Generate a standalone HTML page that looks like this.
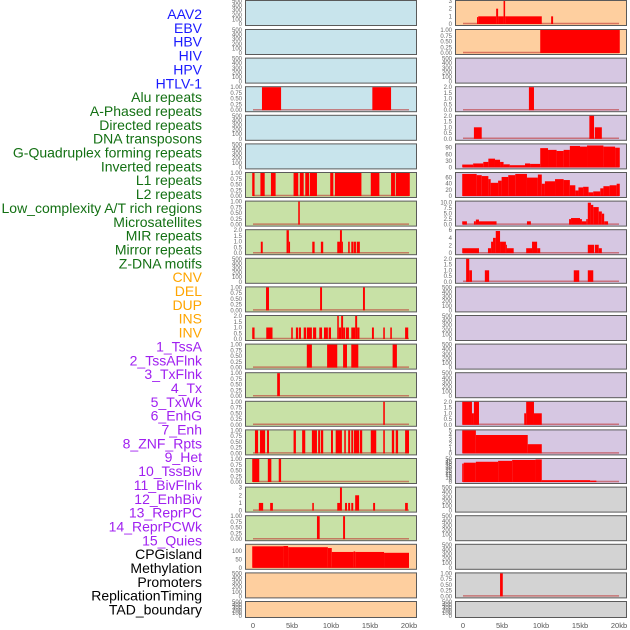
<!DOCTYPE html>
<html><head><meta charset="utf-8"><style>
html,body{margin:0;padding:0;background:#fff;}
svg{display:block;font-family:"Liberation Sans",sans-serif;}
</style></head><body>
<svg id="chart" width="630" height="630" viewBox="0 0 630 630"></svg>
<script>
// ---- row labels ----
const trackLabels = ["AAV2","EBV","HBV","HIV","HPV","HTLV-1","Alu repeats","A-Phased repeats","Directed repeats","DNA transposons","G-Quadruplex forming repeats","Inverted repeats","L1 repeats","L2 repeats","Low_complexity A/T rich regions","Microsatellites","MIR repeats","Mirror repeats","Z-DNA motifs","CNV","DEL","DUP","INS","INV","1_TssA","2_TssAFlnk","3_TxFlnk","4_Tx","5_TxWk","6_EnhG","7_Enh","8_ZNF_Rpts","9_Het","10_TssBiv","11_BivFlnk","12_EnhBiv","13_ReprPC","14_ReprPCWk","15_Quies","CPGisland","Methylation","Promoters","ReplicationTiming","TAD_boundary"];
const labelGroups = [6,13,5,15,5]; // counts per colour group
const xTickValues = [0,5,10,15,20];
const xTickLabels = ["0","5kb","10kb","15kb","20kb"];
// ---- tick label sets ----
const ticksEmpty = [0,100,200,300,400,500];
const ticksUnit = [0,0.25,0.5,0.75,1];
const ticksTwo = [0,0.5,1,1.5,2];
const ticksThree = [0,1,2,3];
const ticksCpg = [0,50,100];
const ticksG4 = [0,30,60,90];
const ticksL1 = [0,20,40,60];
const ticksLow = [0,2.5,5,7.5,10];
const ticksMir = [0,2,4,6];
const ticksFive = [0,1,2,3,4,5];
const ticksFifty = [0,5,10,15,20,25,30,35,40,45,50];
// ---- series: [start_kb, end_kb, value] ----
const L_alu = [[1.15,3.6,1],[15.3,17.7,1]];
const L_l1 = [[-0.1,0.2,1],[0.95,1.5,1],[2.3,2.9,1],[5.2,5.8,1],[6.0,6.5,1],[6.7,7.2,1],[7.3,8.2,1],[9.9,10.3,1],[10.5,13.9,1],[15.1,16.2,1],[17.7,18.2,1],[18.3,20.1,1]];
const L_low = [[5.8,6.0,1]];
const L_mir = [[1.0,1.25,1],[4.3,4.6,2],[4.6,4.75,1],[7.6,7.9,1],[8.7,9.0,1],[10.8,11.15,1],[11.15,11.4,2],[11.4,11.5,1],[12.2,12.4,1],[12.6,12.9,1],[12.95,13.2,1],[13.3,13.7,1]];
const L_del = [[1.67,2.05,1],[8.6,8.85,1],[14.1,14.35,1]];
const L_ins = [[-0.1,0.2,1],[1.7,2.5,1],[4.9,5.1,1],[5.5,5.8,1],[5.9,6.15,1],[6.5,6.8,1],[6.9,7.55,1],[7.7,8.1,1],[8.5,8.85,1],[9.1,9.6,1],[9.7,10.0,1],[10.8,11.0,2],[11.0,11.3,1],[11.3,11.55,2],[11.55,11.8,1],[11.9,12.3,1],[12.6,13.1,1],[13.1,13.35,2],[13.35,13.65,1],[15.25,15.5,1],[16.7,16.9,1],[17.6,17.8,1],[19.5,19.9,1]];
const L_tssa = [[6.9,7.55,1],[9.5,10.8,1],[11.55,12.05,1],[12.6,13.5,1],[17.9,18.45,1]];
const L_flnk = [[3.1,3.45,1]];
const L_txwk = [[16.7,16.9,1]];
const L_enh = [[0.25,0.65,1],[0.9,1.55,1],[1.8,2.05,1],[5.2,5.5,1],[6.3,6.7,1],[7.55,8.2,1],[8.35,8.6,1],[8.7,9.0,1],[10.0,10.25,1],[10.6,11.4,1],[11.7,11.9,1],[12.2,12.45,1],[12.6,12.85,1],[12.95,13.6,1],[13.7,14.0,1],[15.1,15.8,1],[16.7,16.9,1],[17.8,18.1,1],[18.3,18.6,1],[19.5,20.0,1]];
const L_het = [[-0.1,0.8,1],[1.9,2.35,1],[3.3,3.6,1]];
const L_enhbiv = [[0.75,1.3,1],[2.2,2.55,1],[7.6,7.8,1],[10.8,11.15,1],[11.15,11.4,3],[11.8,12.05,1],[12.2,12.45,1],[12.6,12.85,1],[13.1,13.6,2],[15.4,15.65,1],[19.5,19.85,1]];
const L_repr = [[8.2,8.55,1],[11.55,11.8,1]];
const L_cpg = [[-0.1,3.9,126],[3.9,4.5,128],[4.5,9.6,121],[9.6,10.1,116],[10.1,12.9,93],[12.9,13.1,96],[13.1,16.8,93],[16.8,20.0,88]];
const R_aav2 = [[1.8,1.95,0.9],[1.95,4.25,1],[4.25,4.5,2],[4.5,5.2,1],[5.2,5.4,3],[5.4,10.1,1],[11.3,11.55,1]];
const R_ebv = [[9.9,20.1,1]];
const R_alu = [[8.45,9.1,2]];
const R_aphased = [[1.4,2.4,1],[16.2,16.8,2],[16.9,17.8,1]];
const R_g4 = [[-0.1,1.3,13],[1.3,2.6,18],[2.6,3.25,25],[3.25,4.1,40],[4.1,4.75,35],[4.75,5.2,25],[5.2,6.0,14],[6.0,7.95,10],[7.95,8.6,18],[8.6,9.9,16],[9.9,10.9,88],[10.9,12.0,80],[12.0,12.9,75],[12.9,13.7,80],[13.7,15.0,98],[15.0,15.9,95],[15.9,18.0,100],[18.0,19.5,95],[19.5,20.1,90]];
const R_l1 = [[-0.1,1.75,72],[1.75,2.4,68],[2.4,3.25,65],[3.25,3.55,55],[3.55,4.5,43],[4.5,4.95,50],[4.95,5.8,62],[5.8,6.7,68],[6.7,8.2,72],[8.2,9.6,60],[9.6,10.1,70],[10.1,10.5,40],[10.5,11.8,48],[11.8,12.9,55],[12.9,13.7,52],[13.7,14.4,35],[14.4,14.8,18],[14.8,15.4,28],[15.4,16.1,30],[16.1,16.7,12],[16.7,17.6,15],[17.6,18.0,25],[18.0,18.8,32],[18.8,19.7,35],[19.7,20.1,40]];
const R_low = [[-0.1,0.5,1.5],[1.4,1.65,1.5],[1.65,2.05,2.3],[2.05,4.3,1.5],[8.2,8.7,1.5],[13.6,13.85,2.5],[13.85,15.0,3],[15.0,15.25,2.5],[15.25,15.8,1.5],[15.8,16.0,2.5],[16.0,16.4,10],[16.4,16.7,9],[16.7,17.4,8],[17.4,17.8,6],[17.8,18.1,5],[18.1,18.6,1.5]];
const R_mir = [[-0.1,2.05,1.3],[3.2,3.6,1.3],[3.6,3.85,3],[3.85,4.2,4],[4.2,4.75,5.8],[4.75,5.5,3],[5.5,5.6,2.2],[5.6,6.5,1.3],[8.1,8.85,1.3],[8.85,9.5,3],[9.5,9.9,1.3],[16.0,16.8,2.2],[16.9,17.4,2.2],[17.4,17.8,1.3]];
const R_mirror = [[0.4,0.8,2],[0.8,1.15,1],[2.8,3.35,1],[14.2,14.9,1],[16.0,16.7,1]];
const R_txwk = [[-0.1,1.15,2],[1.15,1.4,1],[1.4,2.05,2],[7.85,8.1,1],[8.1,9.1,2],[9.1,10.1,1]];
const R_enh = [[-0.1,1.65,5],[1.65,8.3,4],[8.3,10.1,2]];
const R_het = [[-0.1,0.1,40],[0.1,1.65,42],[1.65,4.5,44],[4.5,6.3,46],[6.3,9.3,48],[9.3,10.1,49],[10.1,16.3,4],[16.3,17.1,3]];
const R_prom = [[4.75,5.1,1]];

const BLUE="#c8e4ec", GREEN="#c8e1a6", PEACH="#fecf9f", LAV="#d6c7e2", GREY="#d3d3d3";
// panel specs: [colour, ymax, ticks, data, name]
const leftPanels = [
 [BLUE,500,ticksEmpty,null,"aav2"],[BLUE,500,ticksEmpty,null,"ebv"],[BLUE,500,ticksEmpty,null,"hiv"],
 [BLUE,1,ticksUnit,L_alu,"alu"],[BLUE,500,ticksEmpty,null,"aphased"],[BLUE,500,ticksEmpty,null,"dna"],
 [GREEN,1,ticksUnit,L_l1,"l1"],[GREEN,1,ticksUnit,L_low,"low-complexity"],[GREEN,2,ticksTwo,L_mir,"mir"],
 [GREEN,500,ticksEmpty,null,"zdna"],[GREEN,1,ticksUnit,L_del,"del"],[GREEN,2,ticksTwo,L_ins,"ins"],
 [GREEN,1,ticksUnit,L_tssa,"tssa"],[GREEN,1,ticksUnit,L_flnk,"txflnk"],[GREEN,1,ticksUnit,L_txwk,"txwk"],
 [GREEN,1,ticksUnit,L_enh,"enh"],[GREEN,1,ticksUnit,L_het,"het"],[GREEN,3,ticksThree,L_enhbiv,"enhbiv"],
 [GREEN,1,ticksUnit,L_repr,"reprpc"],[PEACH,135,ticksCpg,L_cpg,"cpgisland"],[PEACH,500,ticksEmpty,null,"promoters"],[PEACH,500,ticksEmpty,null,"tad"]];
const rightPanels = [
 [PEACH,3,ticksThree,R_aav2,"aav2"],[PEACH,1,ticksUnit,R_ebv,"ebv"],[LAV,500,ticksEmpty,null,"hiv"],
 [LAV,2,ticksTwo,R_alu,"alu"],[LAV,2,ticksTwo,R_aphased,"aphased"],[LAV,105,ticksG4,R_g4,"g4"],
 [LAV,75,ticksL1,R_l1,"l1"],[LAV,10.5,ticksLow,R_low,"low-complexity"],[LAV,6,ticksMir,R_mir,"mir"],
 [LAV,2,ticksTwo,R_mirror,"mirror"],[LAV,500,ticksEmpty,null,"del"],[LAV,500,ticksEmpty,null,"ins"],
 [LAV,500,ticksEmpty,null,"tssa"],[LAV,500,ticksEmpty,null,"txflnk"],[LAV,2,ticksTwo,R_txwk,"txwk"],
 [LAV,5,ticksFive,R_enh,"enh"],[LAV,50,ticksFifty,R_het,"het"],[GREY,500,ticksEmpty,null,"enhbiv"],
 [GREY,500,ticksEmpty,null,"reprpc"],[GREY,500,ticksEmpty,null,"cpgisland"],[GREY,1,ticksUnit,R_prom,"promoters"],[GREY,500,ticksEmpty,null,"tad"]];

const NS="http://www.w3.org/2000/svg";
const svg=document.getElementById("chart");
function mk(tag,attrs,parent){const e=document.createElementNS(NS,tag);for(const k in attrs)e.setAttribute(k,attrs[k]);(parent||svg).appendChild(e);return e;}
const KB=7.8;
function rowTop(i){return i===0?0:29+28.6*(i-1);}
function rowH(i){return i===21?16:25;}
function fmt(t,ticks){const mx=ticks[ticks.length-1];if(mx===1)return t.toFixed(2);if(mx===2)return t.toFixed(1);if(mx===10)return t.toFixed(1);return String(t);}

function drawPanel(spec,i,px,x0,side){
  const [bg,ymax,ticks,data,nm]=spec;
  const top=rowTop(i),h=rowH(i),w=171;
  const g=mk("g",{});
  
  
  const r=mk("rect",{x:px+0.5,y:top+0.5,width:w,height:h,fill:bg,stroke:"#5a5a5a","stroke-width":1},g);
  
  
  const ys=v=>top+1+(h-2)*(1-v/ymax);
  const xs=k=>x0+k*KB;
  ticks.forEach(t=>{
    const tx=mk("text",{x:px-3,y:ys(t)+2,"font-size":6,fill:"#666","text-anchor":"end"},g);
    tx.textContent=fmt(t,ticks);
    
    
  });
  if(data){
    const bl=mk("line",{x1:xs(0),x2:xs(20),y1:ys(0)-0.5,y2:ys(0)-0.5,stroke:"rgba(190,40,40,0.55)","stroke-width":1.5},g);
    
    
    data.forEach(d=>{
      const b=mk("rect",{x:xs(d[0]),y:ys(d[2]),width:Math.max(1,xs(d[1])-xs(d[0])),height:ys(0)-ys(d[2]),fill:"#ff0000"},g);
      
      
    });
  }
}
leftPanels.forEach((s,i)=>drawPanel(s,i,245,253,"left"));
rightPanels.forEach((s,i)=>drawPanel(s,i,455,463,"right"));

[[253,"left"],[463,"right"]].forEach(([x0,side])=>{
  xTickValues.forEach((v,j)=>{
    const t=mk("text",{x:x0+v*KB,y:628,"font-size":7.5,fill:"#555","text-anchor":"middle"});
    t.textContent=xTickLabels[j];
    
    
  });
});

const groupColors=["#1a1aff","#137013","#ffa500","#a020f0","#000000"];
let idx=0;
labelGroups.forEach((n,gi)=>{
  for(let k=0;k<n;k++){
    const t=mk("text",{x:202,y:14+idx*13.85+5,"font-size":14,fill:groupColors[gi],"text-anchor":"end"});
    t.textContent=trackLabels[idx];
    
    
    idx++;
  }
});
</script>
</body></html>
